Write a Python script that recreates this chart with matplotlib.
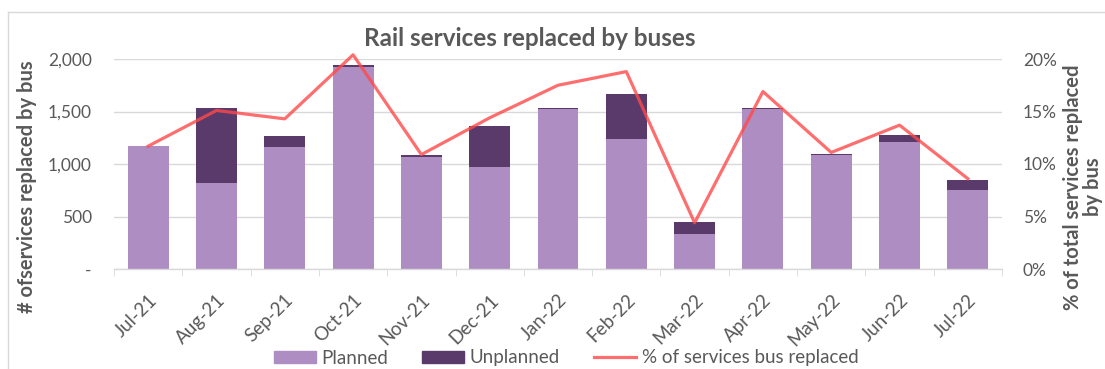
import matplotlib.pyplot as plt
from matplotlib.patches import Patch
from matplotlib.lines import Line2D
from matplotlib.ticker import FuncFormatter, PercentFormatter
import numpy as np

months = ['Jul-21', 'Aug-21', 'Sep-21', 'Oct-21', 'Nov-21', 'Dec-21', 'Jan-22',
          'Feb-22', 'Mar-22', 'Apr-22', 'May-22', 'Jun-22', 'Jul-22']
planned = [1170, 818, 1162, 1927, 1067, 976, 1520, 1242, 332, 1523, 1083, 1210, 755]
unplanned = [6, 718, 108, 16, 16, 389, 12, 420, 114, 13, 17, 63, 94]
pct_replaced = [11.7, 15.1, 14.3, 20.4, 10.9, 14.4, 17.5, 18.8, 4.4, 16.9, 11.1, 13.7, 8.6]

light_purple = '#AE8DC2'
dark_purple = '#5A3A6B'
line_red = '#FF4A4A'
grey_text = '#595959'
grid_grey = '#D9D9D9'

plt.rcParams['font.family'] = ['Lato', 'DejaVu Sans']

W, H = 1105, 369
fig = plt.figure(figsize=(W / 100, H / 100), dpi=100)
ax = fig.add_axes([114 / W, 1 - 269 / H, 888 / W, 210 / H])

x = np.arange(len(months))
ax.bar(x, planned, width=0.6, color=light_purple, zorder=2)
ax.bar(x, unplanned, width=0.6, bottom=planned, color=dark_purple, zorder=2)

ax.set_xlim(-0.5, len(months) - 0.5)
ax.set_ylim(0, 2000)
ax.set_yticks([0, 500, 1000, 1500, 2000])
ax.yaxis.set_major_formatter(FuncFormatter(lambda v, p: '-' if v == 0 else f'{int(v):,}'))
ax.grid(axis='y', color=grid_grey, linewidth=1, zorder=0)
ax.set_axisbelow(True)
for s in ['top', 'right', 'left']:
    ax.spines[s].set_visible(False)
ax.spines['bottom'].set_color(grid_grey)
ax.spines['bottom'].set_linewidth(1)

ax.set_xticks(x)
ax.set_xticklabels(months, rotation=45, ha='right', rotation_mode='anchor',
                   color=grey_text, fontsize=13.5)
ax.tick_params(axis='x', which='major', length=0, pad=16)
# category boundary ticks, excel style
ax.set_xticks(np.arange(-0.5, len(months)), minor=True)
ax.tick_params(axis='x', which='minor', length=5, color=grid_grey)
ax.tick_params(axis='y', length=0, labelcolor=grey_text, labelsize=12.5, pad=16)
ax.set_ylabel('# ofservices replaced by bus', color=grey_text, fontsize=14.5,
              fontweight='bold', va='center')
ax.yaxis.set_label_coords((27 - 114) / 888, (269 - 187) / 210)

ax2 = ax.twinx()
ax2.plot(x, pct_replaced, color=line_red, alpha=0.8, linewidth=2.3, clip_on=False, zorder=3)
ax2.set_ylim(0, 20)
ax2.set_yticks([0, 5, 10, 15, 20])
ax2.yaxis.set_major_formatter(PercentFormatter(decimals=0))
ax2.tick_params(axis='y', length=0, labelcolor=grey_text, labelsize=12.5, pad=15)
for s in ax2.spines.values():
    s.set_visible(False)

# right axis title, two lines
fig.text(1083 / W, 1 - 187 / H, '% of total services replaced\nby bus', rotation=90,
         ha='center', va='center', multialignment='center', color=grey_text,
         fontsize=14.5, fontweight='bold', linespacing=1.0)

fig.text(530 / W, 1 - 38 / H, 'Rail services replaced by buses', ha='center',
         va='center', fontsize=17.5, fontweight='bold', color=grey_text)

handles = [Patch(color=light_purple), Patch(color=dark_purple),
           Line2D([0], [0], color=line_red, alpha=0.8, linewidth=2.3)]
labels = ['Planned', 'Unplanned', '% of services bus replaced']
fig.legend(handles, labels, loc='center', bbox_to_anchor=(566 / W, 1 - 358 / H),
           ncol=3, frameon=False, fontsize=13.5, labelcolor=grey_text,
           handlelength=2.25, handleheight=0.55, handletextpad=0.3, columnspacing=1.8)

# chart frame
fig.add_artist(Line2D([8 / W, 1], [1 - 12 / H, 1 - 12 / H], color=grid_grey, linewidth=1))
fig.add_artist(Line2D([8 / W, 8 / W], [0, 1 - 12 / H], color=grid_grey, linewidth=1))

plt.savefig('out.png', dpi=100)
